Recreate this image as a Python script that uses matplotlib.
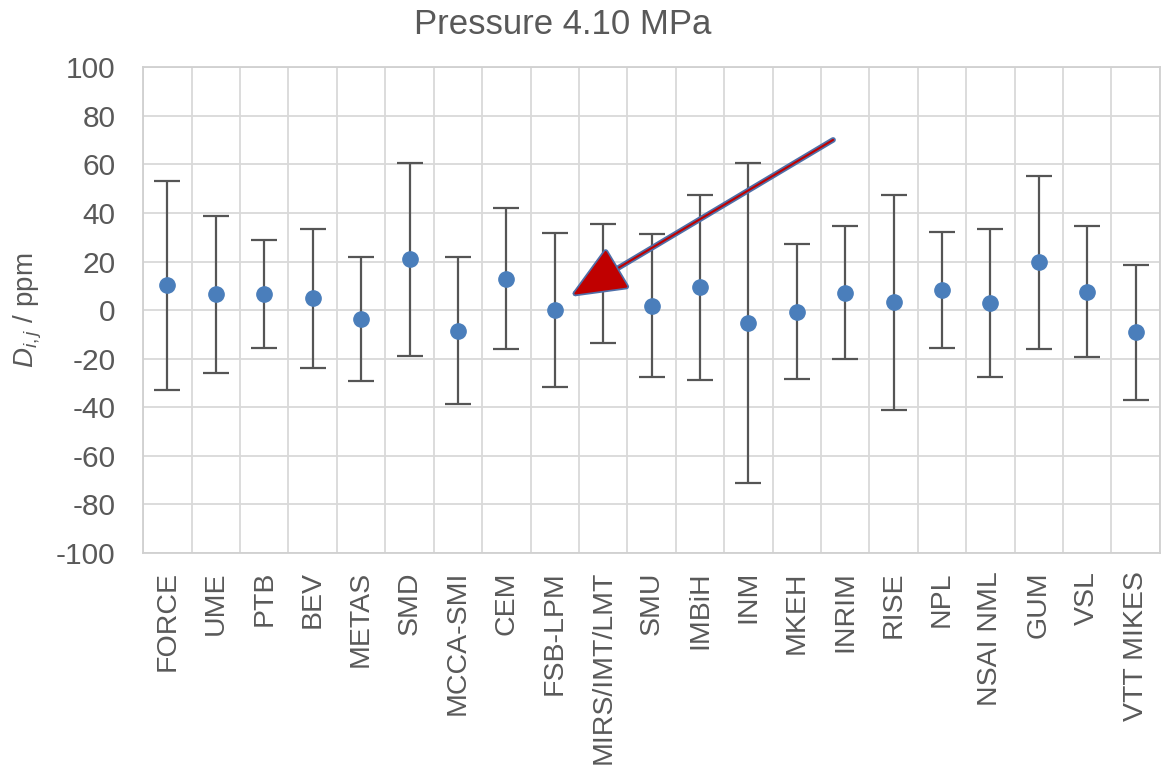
import matplotlib
matplotlib.use('Agg')
import matplotlib.pyplot as plt
import matplotlib.patheffects as pe
import numpy as np

plt.rcParams['font.family'] = ['Liberation Sans', 'DejaVu Sans']
plt.rcParams['mathtext.fontset'] = 'custom'
plt.rcParams['mathtext.rm'] = 'Liberation Sans'
plt.rcParams['mathtext.it'] = 'Liberation Sans:italic'
plt.rcParams['axes.unicode_minus'] = False

labs = ['FORCE', 'UME', 'PTB', 'BEV', 'METAS', 'SMD', 'MCCA-SMI', 'CEM',
        'FSB-LPM', 'MIRS/IMT/LMT', 'SMU', 'IMBiH', 'INM', 'MKEH', 'INRIM',
        'RISE', 'NPL', 'NSAI NML', 'GUM', 'VSL', 'VTT MIKES']
d = [10.3, 6.5, 6.7, 4.8, -3.6, 21.0, -8.4, 13.0, 0.1, 11.0, 1.9, 9.4,
     -5.3, -0.6, 7.1, 3.4, 8.2, 3.0, 19.7, 7.4, -8.8]
up = [53.2, 38.9, 28.8, 33.6, 21.8, 60.5, 21.8, 42.0, 31.9, 35.4, 31.4,
      47.4, 60.5, 27.1, 34.5, 47.4, 32.2, 33.4, 55.3, 34.5, 18.7]
lo = [-32.7, -25.7, -15.7, -23.9, -29.2, -18.7, -38.6, -16.1, -31.8, -13.5,
      -27.4, -28.7, -71.0, -28.3, -20.0, -41.0, -15.6, -27.4, -16.1, -19.4,
      -37.1]

txt = '#595959'
x = np.arange(len(labs))
d = np.array(d)
yerr = [d - np.array(lo), np.array(up) - d]

fig = plt.figure(figsize=(11.61, 7.69), dpi=100)
ax = fig.add_axes([0.1234, 0.2809, 0.8756, 0.6316])

ax.errorbar(x, d, yerr=yerr, fmt='o', color='#4a7ebb', ms=11,
            ecolor='#555555', elinewidth=1.6, capsize=9.5, capthick=1.6,
            zorder=3)

ax.set_xlim(-0.5, len(labs) - 0.5)
ax.set_ylim(-100, 100)
ax.set_yticks(np.arange(-100, 101, 20))
ax.set_xticks(x)
ax.set_xticklabels(labs, rotation=90, va='top', ha='center')
ax.set_xticks(np.arange(-0.5, len(labs), 1), minor=True)

ax.grid(True, which='major', axis='y', color='#d9d9d9', lw=1.3)
ax.grid(True, which='minor', axis='x', color='#d9d9d9', lw=1.3)
ax.set_axisbelow(True)
for s in ax.spines.values():
    s.set_color('#d0d0d0')
    s.set_linewidth(1.3)

ax.tick_params(axis='y', length=0, pad=20, labelsize=21.5, labelcolor=txt)
ax.tick_params(axis='x', which='both', length=0, pad=13, labelsize=20.5,
               labelcolor=txt)

ax.set_ylabel(r'$D_{i,j}$ / ppm', fontsize=20, color=txt)
ax.yaxis.set_label_coords(-0.098, 0.5)
fig.text(0.485, 0.968, 'Pressure 4.10 MPa', ha='center', va='center',
         fontsize=25, color=txt)

# red arrow pointing at the MIRS/IMT/LMT entry
ax.annotate('', xy=(8.38, 6.3), xytext=(13.75, 70.1),
            arrowprops=dict(arrowstyle='-|>,head_length=3.4,head_width=1.45',
                            color='#c00000', lw=1.5, mutation_scale=10,
                            shrinkA=0, shrinkB=0,
                            path_effects=[pe.Stroke(linewidth=4, foreground='#4f6fa8'),
                                          pe.Normal()]),
            zorder=5)

fig.savefig('out.png', dpi=100)
